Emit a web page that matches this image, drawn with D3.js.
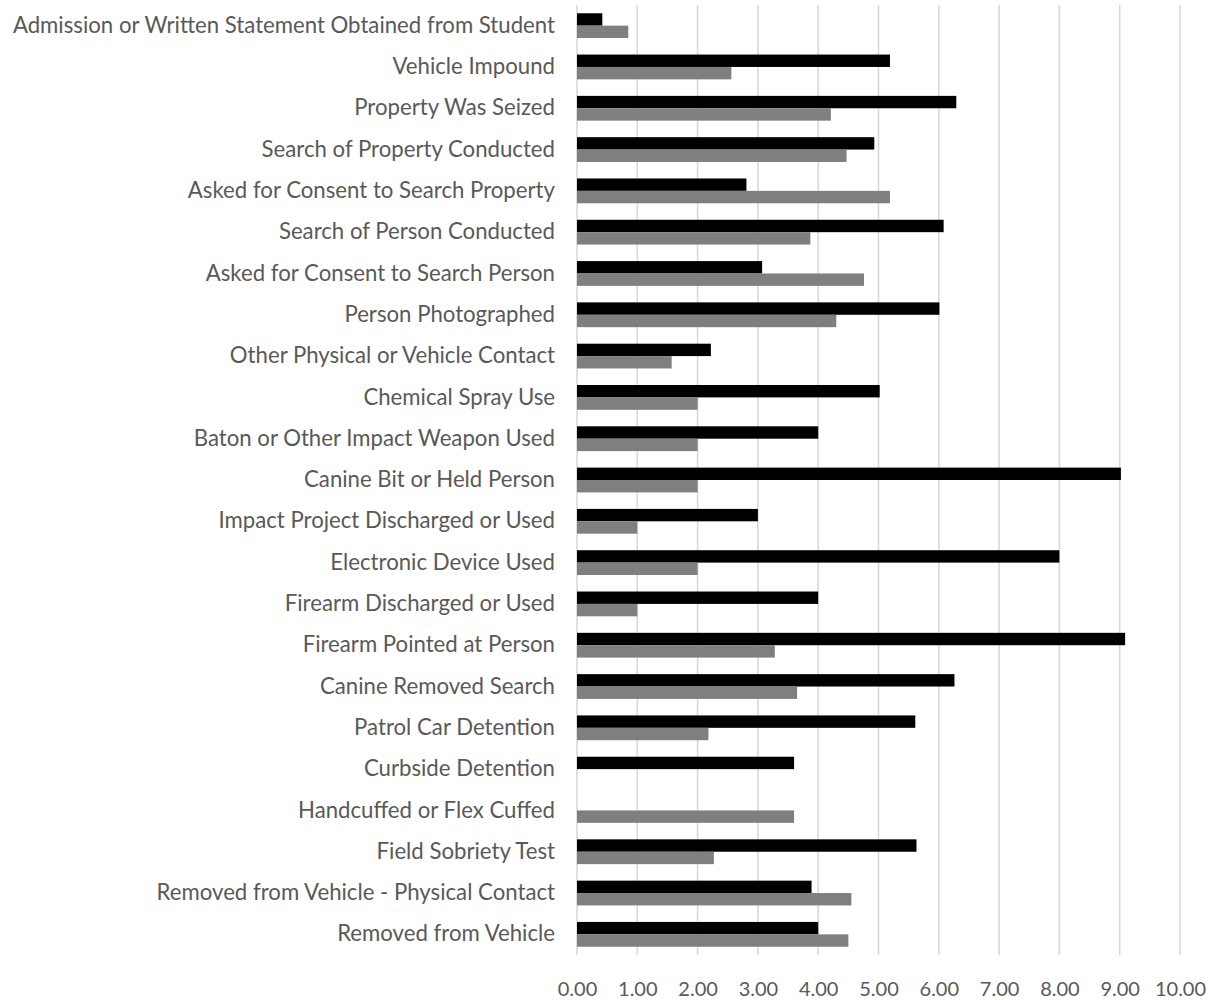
<!DOCTYPE html>
<html>
<head>
<meta charset="utf-8">
<script src="https://cdn.jsdelivr.net/npm/d3@7"></script>
<style>
  body { margin: 0; background: #fff; }
  svg { display: block; }
</style>
</head>
<body>
<svg id="chart" width="1217" height="1000"></svg>
<script>
const categories = [
  "Admission or Written Statement Obtained from Student",
  "Vehicle Impound",
  "Property Was Seized",
  "Search of Property Conducted",
  "Asked for Consent to Search Property",
  "Search of Person Conducted",
  "Asked for Consent to Search Person",
  "Person Photographed",
  "Other Physical or Vehicle Contact",
  "Chemical Spray Use",
  "Baton or Other Impact Weapon Used",
  "Canine Bit or Held Person",
  "Impact Project Discharged or Used",
  "Electronic Device Used",
  "Firearm Discharged or Used",
  "Firearm Pointed at Person",
  "Canine Removed Search",
  "Patrol Car Detention",
  "Curbside Detention",
  "Handcuffed or Flex Cuffed",
  "Field Sobriety Test",
  "Removed from Vehicle - Physical Contact",
  "Removed from Vehicle"
];
const seriesBlack = [0.42, 5.19, 6.29, 4.93, 2.81, 6.08, 3.07, 6.01, 2.22, 5.02, 4.00, 9.02, 3.00, 8.00, 4.00, 9.09, 6.26, 5.61, 3.60, null, 5.63, 3.89, 4.00];
const seriesGray  = [0.85, 2.56, 4.21, 4.47, 5.19, 3.87, 4.76, 4.30, 1.57, 2.00, 2.00, 2.00, 1.00, 2.00, 1.00, 3.28, 3.65, 2.18, null, 3.60, 2.27, 4.55, 4.50];
const tickValues = [0,1,2,3,4,5,6,7,8,9,10];
const seriesNames = ["black", "gray"];
const seriesColors = ["#000000", "#7f7f7f"];

const svg = d3.select("#chart");
const x = d3.scaleLinear().domain([0, 10]).range([577, 1180]);
const y = d3.scaleBand().domain(categories).range([5, 955]).padding(0);
const bw = y.bandwidth();
const inner = d3.scaleBand().domain(seriesNames).range([bw * 0.2, bw * 0.8]).padding(0);

// gridlines
svg.append("g").selectAll("line").data(tickValues).join("line")
  .attr("x1", d => x(d)).attr("x2", d => x(d))
  .attr("y1", 5).attr("y2", 955)
  .attr("stroke", "#d9d9d9").attr("stroke-width", 1.6);

// bars
const seriesData = [seriesBlack, seriesGray];
seriesNames.forEach((s, si) => {
  svg.append("g").selectAll("rect")
    .data(categories.map((c, i) => ({c, v: seriesData[si][i]})).filter(d => d.v != null))
    .join("rect")
    .attr("x", x(0))
    .attr("y", d => y(d.c) + inner(s))
    .attr("width", d => x(d.v) - x(0))
    .attr("height", inner.bandwidth())
    .attr("fill", seriesColors[si]);
});

// category labels
const yAxis = d3.axisLeft(y).tickSize(0).tickPadding(22);
const gy = svg.append("g").attr("transform", `translate(${x(0)},0)`).call(yAxis);
gy.select(".domain").remove();
gy.selectAll("text")
  .attr("fill", "#595959")
  .style("font-family", "Lato, 'Open Sans', sans-serif")
  .style("font-size", "22.2px");

// x axis labels
const xAxis = d3.axisBottom(x).tickValues(tickValues).tickSize(0).tickPadding(27).tickFormat(d3.format(".2f"));
const gx = svg.append("g").attr("transform", `translate(0,955)`).call(xAxis);
gx.select(".domain").remove();
gx.selectAll("text")
  .attr("fill", "#595959")
  .style("font-family", "Lato, 'Open Sans', sans-serif")
  .style("font-size", "20px");
</script>
</body>
</html>
